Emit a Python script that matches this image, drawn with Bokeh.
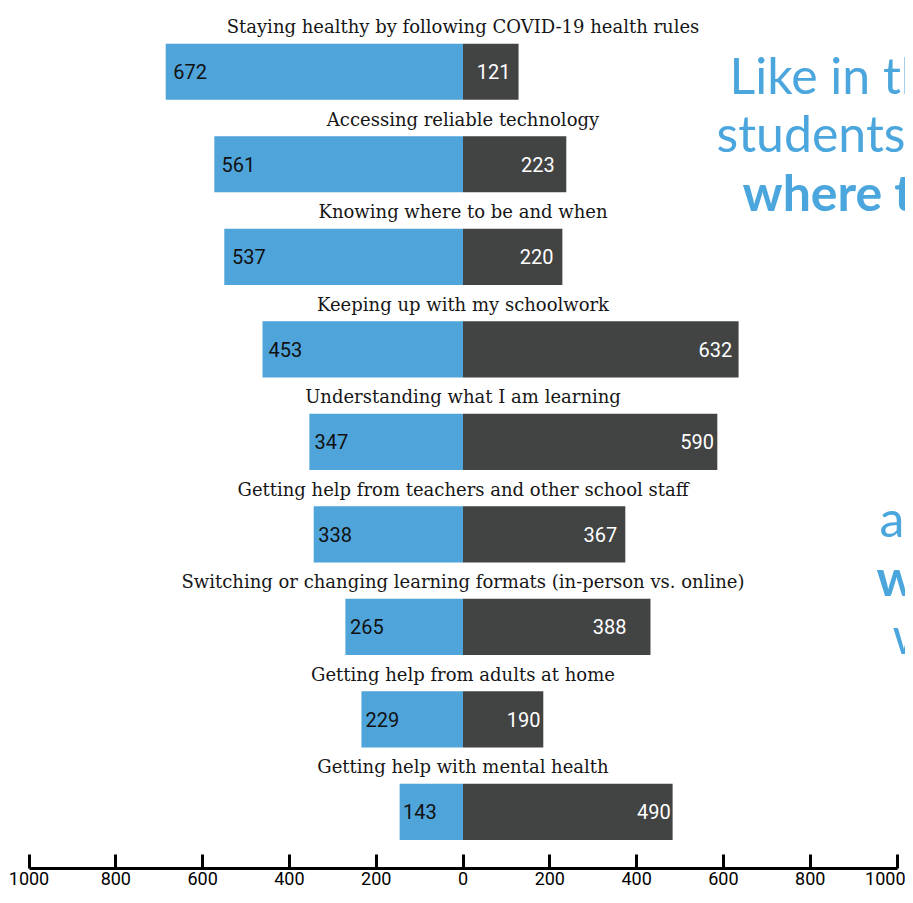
from bokeh.plotting import figure
from bokeh.models import Range1d, FixedTicker, Label
from bokeh.core.properties import value
from bokeh.embed import file_html
from bokeh.resources import INLINE

# ---------------- data ----------------
categories = [
    "Staying healthy by following COVID-19 health rules",
    "Accessing reliable technology",
    "Knowing where to be and when",
    "Keeping up with my schoolwork",
    "Understanding what I am learning",
    "Getting help from teachers and other school staff",
    "Switching or changing learning formats (in-person vs. online)",
    "Getting help from adults at home",
    "Getting help with mental health",
]
left_labels = [672, 561, 537, 453, 347, 338, 265, 229, 143]
right_labels = [121, 223, 220, 632, 590, 367, 388, 190, 490]
# bar lengths as drawn in the picture (axis units)
left_bars = [685, 573, 550, 462, 354, 344, 271, 234, 146]
right_bars = [128, 238, 229, 635, 586, 374, 432, 185, 483]
tick_values = [-1000, -800, -600, -400, -200, 0, 200, 400, 600, 800, 1000]
tick_labels = ["1000", "800", "600", "400", "200", "0", "200", "400", "600", "800", "1000"]

note_top = ["Like in the fall,", "students reported", "where to be"]
note_bottom = ["and keeping up", "with schoolwork", "was harder."]

# ---------------- layout constants ----------------
W, H = 905, 887
ZERO_PX = 462.5          # x of value 0 inside the figure
PX_PER_UNIT = 0.434
ROW0_PX = 71.0           # y of first row centre inside the figure
ROW_STEP = 92.2
FRAME_H = 865.0          # frame height (figure minus axis)

x_start = -ZERO_PX / PX_PER_UNIT
x_end = (W - ZERO_PX) / PX_PER_UNIT
y_top = (0 - ROW0_PX) / ROW_STEP
y_bot = (FRAME_H - ROW0_PX) / ROW_STEP


def ydata(py):
    return (py - ROW0_PX) / ROW_STEP


def xdata(px):
    return (px - ZERO_PX) / PX_PER_UNIT


BLUE = "#4fa4da"
DARK = "#424343"
NOTE = "#4aa6dd"
NUMFONT = "Roboto"

idx = list(range(len(categories)))
bar_h = 56 / ROW_STEP

p = figure(width=W, height=H, x_range=Range1d(x_start, x_end),
           y_range=Range1d(y_bot, y_top), output_backend="svg",
           toolbar_location=None, y_axis_location=None,
           min_border_left=0, min_border_right=0, min_border_top=0,
           min_border_bottom=0, outline_line_color=None)
p.grid.visible = False

p.hbar(y=idx, left=[-v for v in left_bars], right=0, height=bar_h,
       fill_color=BLUE, line_color=None)
p.hbar(y=idx, left=0, right=right_bars, height=bar_h,
       fill_color=DARK, line_color=None)

p.text(x=[-v for v in left_labels], y=idx, text=[str(v) for v in left_labels],
       text_align="left", text_baseline="middle", x_offset=2,
       text_font=value(NUMFONT), text_font_size="20px", text_color="#111111")
p.text(x=right_labels, y=idx, text=[str(v) for v in right_labels],
       text_align="right", text_baseline="middle", x_offset=-5,
       text_font=value(NUMFONT), text_font_size="20px", text_color="#ffffff")

p.text(x=[0] * len(idx), y=idx, text=categories, text_align="center",
       text_baseline="middle", y_offset=-45,
       text_font=value("DejaVu Serif"), text_font_size="18px",
       text_color="#161616")

ax = p.xaxis[0]
ax.ticker = FixedTicker(ticks=tick_values)
ax.major_label_overrides = {v: s for v, s in zip(tick_values, tick_labels)}
ax.bounds = (tick_values[0], tick_values[-1])
ax.axis_line_width = 3
ax.axis_line_color = "#000000"
ax.major_tick_line_width = 3
ax.major_tick_line_color = "#000000"
ax.major_tick_in = 14
ax.major_tick_out = 0
ax.minor_tick_line_color = None
ax.major_label_standoff = 3
ax.major_label_text_font = NUMFONT
ax.major_label_text_font_size = "18px"
ax.major_label_text_color = "#000000"

# side note (cut off at the right edge as in the original)
top_x = [729, 716, 742]
top_y = [74, 132, 191]
for t, xx, yy, bold in zip(note_top, top_x, top_y, [False, False, True]):
    p.add_layout(Label(x=xdata(xx), y=ydata(yy), text=t, text_font="Lato",
                       text_font_size="50px", text_color=NOTE,
                       text_font_style="bold" if bold else "normal",
                       text_baseline="alphabetic", text_align="left"))
bot_x = [879, 876, 892]
bot_y = [516, 575, 632]
for t, xx, yy, bold in zip(note_bottom, bot_x, bot_y, [False, True, False]):
    p.add_layout(Label(x=xdata(xx), y=ydata(yy), text=t, text_font="Lato",
                       text_font_size="50px", text_color=NOTE,
                       text_font_style="bold" if bold else "normal",
                       text_baseline="alphabetic", text_align="left"))

open("out.html", "w").write(file_html(p, INLINE))
